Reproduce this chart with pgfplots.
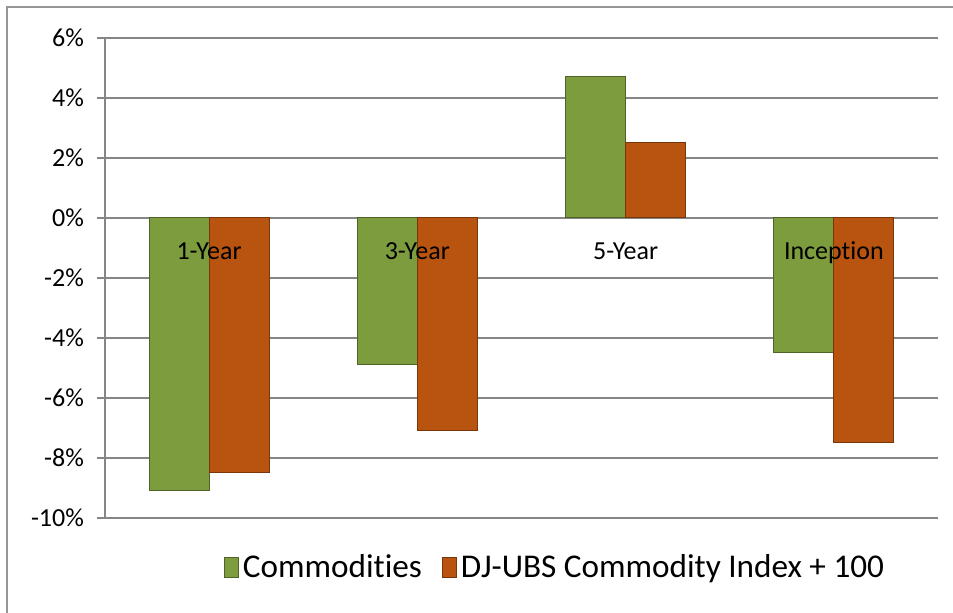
\documentclass[border=0pt]{standalone}
\usepackage{pgfplots}
\pgfplotsset{compat=1.18}
\usepackage{fontspec}
\setmainfont{Carlito}[Ligatures=NoCommon]
\definecolor{gridgray}{RGB}{134,134,134}
\definecolor{framegray}{RGB}{150,150,150}
\definecolor{cgreen}{RGB}{124,156,62}
\definecolor{cgreenb}{RGB}{79,98,40}
\definecolor{corange}{RGB}{184,84,16}
\definecolor{coranged}{RGB}{120,55,10}
\begin{document}
\begin{tikzpicture}[x=0.5pt,y=0.5pt]
\useasboundingbox (-105,-95) rectangle (848,518);
\draw[framegray, line width=1pt] (-98,-120) -- (-98,511) -- (900,511);
\begin{axis}[
  at={(0,0)}, anchor=south west,
  scale only axis, width=416.5pt, height=240pt,
  xmin=-0.5, xmax=3.5, ymin=-10, ymax=6,
  ytick={-10,-8,...,6},
  yticklabels={-10\%,-8\%,-6\%,-4\%,-2\%,0\%,2\%,4\%,6\%},
  ymajorgrids, grid style={gridgray, line width=0.75pt},
  axis x line=middle, axis y line=left,
  x axis line style={draw=none},
  y axis line style={gridgray, line width=0.75pt, -},
  xtick={0,1,2,3}, xticklabels={},
  major x tick style={draw=none},
  tick align=outside, major tick length=4pt,
  major y tick style={gridgray, line width=0.75pt},
  yticklabel style={font=\fontsize{13}{15}\selectfont, xshift=-3pt},
  ybar=0pt, bar width=30pt,
  legend style={at={(0.5414,-0.104)}, anchor=center, draw=none, fill=none,
    font=\fontsize{16.6}{20}\selectfont, legend columns=2,
    /tikz/every even column/.append style={column sep=8pt}},
  legend image code/.code={\draw[#1] (0pt,-5pt) rectangle (7pt,5pt);},
]
\addplot[fill=cgreen, draw=cgreenb, line width=0.5pt] coordinates {(0,-9.1) (1,-4.9) (2,4.7) (3,-4.5)};
\addplot[fill=corange, draw=coranged, line width=0.5pt] coordinates {(0,-8.5) (1,-7.1) (2,2.5) (3,-7.5)};
\legend{Commodities, DJ-UBS Commodity Index + 100}
\node[font=\fontsize{13}{15}\selectfont, anchor=base] at (axis cs:0,-1.37) {1-Year};
\node[font=\fontsize{13}{15}\selectfont, anchor=base] at (axis cs:1,-1.37) {3-Year};
\node[font=\fontsize{13}{15}\selectfont, anchor=base] at (axis cs:2,-1.37) {5-Year};
\node[font=\fontsize{13}{15}\selectfont, anchor=base] at (axis cs:3,-1.37) {Inception};
\end{axis}
\end{tikzpicture}
\end{document}
